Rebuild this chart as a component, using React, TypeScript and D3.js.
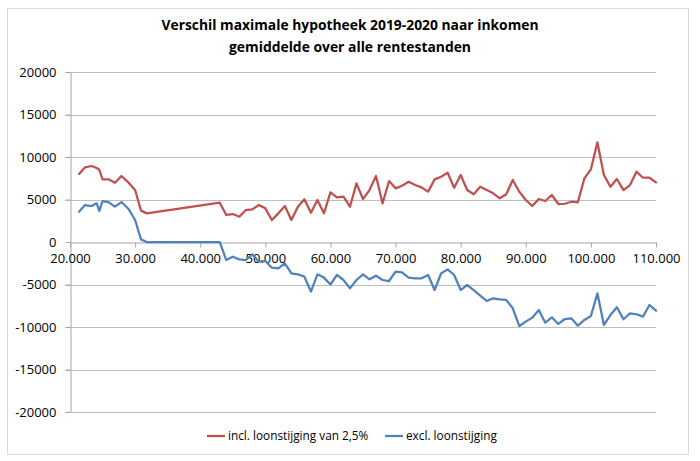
import { useEffect, useRef } from 'react'
import * as d3 from 'd3'

// income (x) shared by both series
const incomes = [
  21400, 22300, 23300, 24100, 24500, 25000, 25900, 26900, 27900, 29000, 30000, 30900, 31800,
  43000, 44000, 45000, 46000, 47000, 48000, 49000, 50000, 51000, 52000, 53000, 54000, 55000,
  56000, 57000, 58000, 59000, 60000, 61000, 62000, 63000, 64000, 65000, 66000, 67000, 68000,
  69000, 70000, 71000, 72000, 73000, 74000, 75000, 76000, 77000, 78000, 79000, 80000, 81000,
  82000, 83000, 84000, 85000, 86000, 87000, 88000, 89000, 90000, 91000, 92000, 93000, 94000,
  95000, 96000, 97000, 98000, 99000, 100000, 101000, 102000, 103000, 104000, 105000, 106000,
  107000, 108000, 109000, 110000,
]

const inclLoonstijging = [
  8000, 8780, 8940, 8700, 8500, 7370, 7370, 6980, 7760, 6980, 6110, 3690, 3370,
  4620, 3180, 3290, 2980, 3760, 3840, 4350, 3960, 2590, 3370, 4230, 2590, 4150,
  5020, 3450, 4940, 3370, 5840, 5250, 5330, 4150, 6900, 5060, 6110, 7760, 4550,
  7170, 6310, 6620, 7090, 6700, 6430, 5920, 7370, 7680, 8150, 6390, 7880, 6110,
  5610, 6500, 6110, 5730, 5140, 5610, 7290, 5920, 4940, 4230, 5060, 4820, 5530,
  4470, 4500, 4740, 4670, 7490, 8550, 11720, 7880, 6500, 7410, 6110, 6700,
  8270, 7560, 7560, 7020,
]

const exclLoonstijging = [
  3570, 4350, 4230, 4550, 3650, 4820, 4700, 4160, 4700, 3880, 2590, 310, 0,
  0, -2120, -1730, -2040, -2120, -1450, -2310, -2230, -3020, -3100, -2510, -3690, -3800,
  -4080, -5840, -3800, -4190, -5000, -3880, -4470, -5450, -4470, -3800, -4390, -3960, -4470,
  -4590, -3490, -3570, -4190, -4270, -4270, -3880, -5650, -3690, -3220, -3880, -5650, -5060,
  -5650, -6310, -6940, -6620, -6740, -6820, -7800, -9880, -9370, -8900, -8000, -9490, -8860,
  -9640, -9060, -8980, -9840, -9170, -8700, -6040, -9760, -8590, -7680, -9090, -8390,
  -8500, -8780, -7410, -8080,
]

const xTicks = [20000, 30000, 40000, 50000, 60000, 70000, 80000, 90000, 100000, 110000]
const yTicks = [20000, 15000, 10000, 5000, 0, -5000, -10000, -15000, -20000]

const titleLines = [
  'Verschil maximale hypotheek 2019-2020 naar inkomen',
  'gemiddelde over alle rentestanden',
]
const seriesNames = ['incl. loonstijging van 2,5%', 'excl. loonstijging']
const seriesColors = ['#C0504D', '#4F81BD']

const font = "'Open Sans', 'DejaVu Sans', sans-serif"

const App = () => {
  const ref = useRef<SVGSVGElement>(null)

  useEffect(() => {
    const svg = d3.select(ref.current)
    svg.selectAll('*').remove()

    const width = 700
    const height = 461
    const margin = { top: 72, right: 44, bottom: 49, left: 70 }

    const x = d3
      .scaleLinear()
      .domain([20000, 110000])
      .range([margin.left, width - margin.right])
    const y = d3
      .scaleLinear()
      .domain([-20000, 20000])
      .range([height - margin.bottom, margin.top])

    // chart border
    svg
      .append('rect')
      .attr('x', 7.5)
      .attr('y', 8.5)
      .attr('width', 681)
      .attr('height', 446)
      .attr('fill', '#fff')
      .attr('stroke', '#d9d9d9')

    // title
    svg
      .append('g')
      .selectAll('text')
      .data(titleLines)
      .join('text')
      .attr('x', width / 2)
      .attr('y', (_, i) => 30 + i * 22)
      .attr('text-anchor', 'middle')
      .attr('font-family', font)
      .attr('font-weight', 'bold')
      .attr('font-size', 14)
      .attr('textLength', (_, i) => (i === 0 ? 377 : 242))
      .attr('lengthAdjust', 'spacingAndGlyphs')
      .attr('fill', '#000')
      .text((d) => d)

    // gridlines
    svg
      .append('g')
      .selectAll('line')
      .data(yTicks.filter((d) => d !== 0))
      .join('line')
      .attr('x1', margin.left - 5)
      .attr('x2', width - margin.right)
      .attr('y1', (d) => Math.round(y(d)) + 0.5)
      .attr('y2', (d) => Math.round(y(d)) + 0.5)
      .attr('stroke', '#bfbfbf')

    // y axis
    const yAxis = svg
      .append('g')
      .attr('transform', `translate(${margin.left + 0.5},0)`)
      .call(
        d3
          .axisLeft(y)
          .tickValues(yTicks)
          .tickSize(5)
          .tickSizeOuter(0)
          .tickPadding(9)
          .tickFormat((d) => String(d))
      )
    yAxis.selectAll('path,line').attr('stroke', '#a6a6a6')
    yAxis.selectAll('text').attr('font-family', font).attr('font-size', 13).attr('fill', '#000')

    // x axis at zero
    const fmt = d3.formatLocale({
      decimal: ',',
      thousands: '.',
      grouping: [3],
      currency: ['', ''],
    }).format(',')
    const xAxis = svg
      .append('g')
      .attr('transform', `translate(0,${Math.round(y(0)) + 0.5})`)
      .call(
        d3
          .axisBottom(x)
          .tickValues(xTicks)
          .tickSize(5)
          .tickSizeOuter(0)
          .tickPadding(6)
          .tickFormat((d) => fmt(d as number))
      )
    xAxis.selectAll('path,line').attr('stroke', '#a6a6a6')
    xAxis.selectAll('text').attr('font-family', font).attr('font-size', 13).attr('fill', '#000')

    // series lines
    const line = d3
      .line<number>()
      .x((_, i) => x(incomes[i]))
      .y((d) => y(d))

    svg
      .append('g')
      .selectAll('path')
      .data([inclLoonstijging, exclLoonstijging])
      .join('path')
      .attr('d', (d) => line(d))
      .attr('fill', 'none')
      .attr('stroke', (_, i) => seriesColors[i])
      .attr('stroke-width', 2.25)
      .attr('stroke-linejoin', 'round')
      .attr('stroke-linecap', 'round')

    // legend
    const legendX = [207, 385]
    const legend = svg
      .append('g')
      .selectAll('g')
      .data(seriesNames)
      .join('g')
      .attr('transform', (_, i) => `translate(${legendX[i]},436)`)
    legend
      .append('line')
      .attr('x1', 0)
      .attr('x2', 18)
      .attr('stroke', (_, i) => seriesColors[i])
      .attr('stroke-width', 2.25)
    legend
      .append('text')
      .attr('x', 21)
      .attr('dy', '0.35em')
      .attr('font-family', font)
      .attr('font-size', 11.8)
      .attr('fill', '#000')
      .text((d) => d)
  }, [])

  return (
    <svg
      ref={ref}
      width={700}
      height={461}
      style={{ position: 'absolute', left: 0, top: 0, background: '#fff' }}
    />
  )
}

export default App
